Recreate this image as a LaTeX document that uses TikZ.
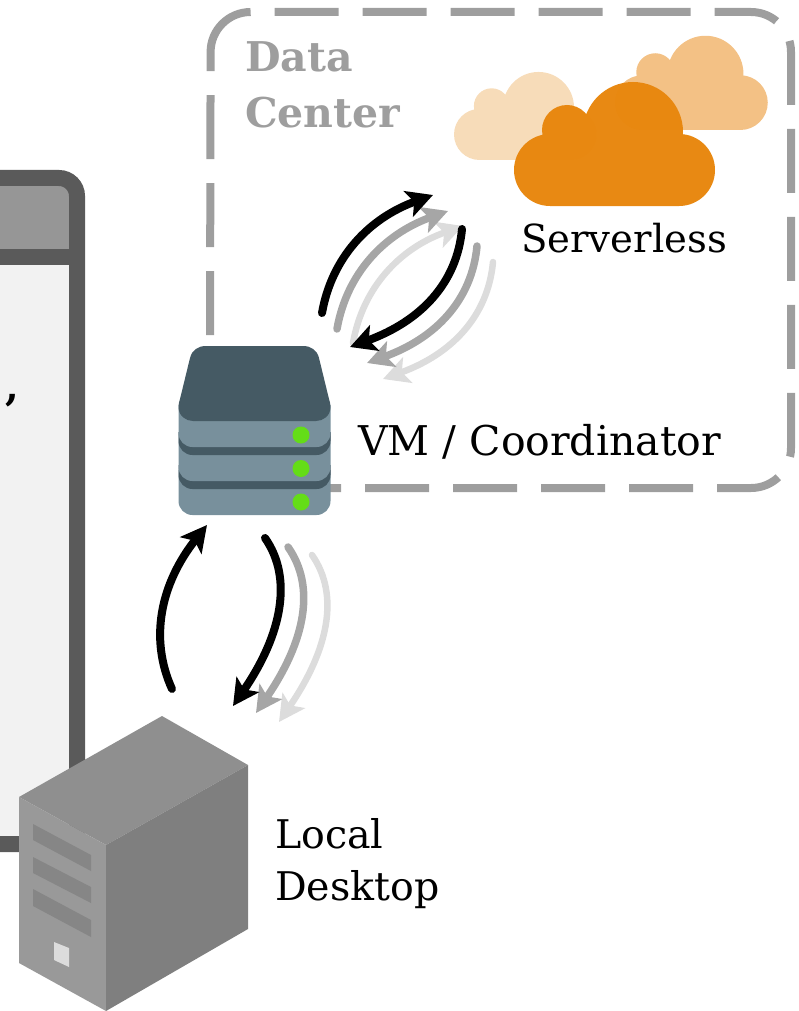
\documentclass[tikz,border=0pt]{standalone}
\usepackage{fontspec}
\setmainfont{DejaVu Serif}
\usetikzlibrary{arrows.meta}
\definecolor{dashgrey}{HTML}{9E9E9E}
\definecolor{winborder}{HTML}{5A5A5A}
\definecolor{winhead}{HTML}{969696}
\definecolor{winbody}{HTML}{F2F2F2}
\definecolor{srvdark}{HTML}{455A64}
\definecolor{srvlight}{HTML}{78909C}
\definecolor{srvgreen}{HTML}{64DD17}
\definecolor{cloudmain}{HTML}{E8870E}
\definecolor{cloudmid}{HTML}{F3C185}
\definecolor{cloudpale}{HTML}{F7DCB9}
\definecolor{pctop}{HTML}{8F8F8F}
\definecolor{pcfront}{HTML}{999999}
\definecolor{pcside}{HTML}{7F7F7F}
\definecolor{pcslot}{HTML}{868686}
\definecolor{pcbtn}{HTML}{DCDCDC}
\definecolor{flowmid}{HTML}{A6A6A6}
\definecolor{flowpale}{HTML}{DCDCDC}
\newcommand{\cloudshape}[1]{%
  \fill[#1] (119,-74) circle[radius=50] (53,-76) circle[radius=25]
    (36,-36) circle[radius=36] (165,-36) circle[radius=36];
  \fill[#1] (36,-72) rectangle (165,0);
}
\tikzset{
  flow/.style={line width=8pt,line cap=round,-{Stealth[length=26pt,width=27pt,inset=6pt]}},
  flowblack/.style={flow,draw=black},
  flowgrey/.style={flow,line width=7.5pt,draw=flowmid},
  flowlight/.style={flow,line width=6.5pt,draw=flowpale},
  label/.style={inner sep=0pt,anchor=base west,font=\fontsize{39.5}{40}\selectfont},
  dclabel/.style={label,font=\fontsize{41}{41}\selectfont\bfseries,text=dashgrey},
}
\begin{document}
\begin{tikzpicture}[x=1pt,y=-1pt]
\useasboundingbox (0,0) rectangle (798,1011);
% window
\fill[winbody] (-20,257) rectangle (77,844);
\fill[winhead] (-20,178) -- (59,178) arc[start angle=-90,end angle=0,radius=18] -- (77,257) -- (-20,257) -- cycle;
\draw[winborder,line width=16pt] (-20,178) -- (59,178) arc[start angle=-90,end angle=0,radius=18] -- (77,844) -- (-20,844);
\draw[winborder,line width=16pt] (-20,257) -- (77,257);
\node[label,anchor=base east,font=\fontsize{39.5}{40}\selectfont\bfseries] (clipped) at (19,400) {,};
% data centre
\draw[dashgrey,line width=8pt,dash pattern=on 64pt off 24pt,dash phase=64pt]
  (250.6,12) -- (751,12) arc[start angle=270,end angle=360,radius=40] -- (791,448)
  arc[start angle=0,end angle=90,radius=40] -- (300,488);
\draw[dashgrey,line width=8pt,dash pattern=on 82pt off 24pt on 64pt off 24pt on 64pt off 24pt on 64pt off 24pt]
  (250.6,12) arc[start angle=270,end angle=180,radius=40] -- (210,345);
\node[dclabel] (dc1) at (245,72) {Data};
\node[dclabel] (dc2) at (245,128) {Center};
% clouds
\begin{scope}[shift={(454,160)},scale=.71]
  \cloudshape{cloudpale}
\end{scope}
\begin{scope}[shift={(615,130)},scale=.76]
  \cloudshape{cloudmid}
\end{scope}
\begin{scope}[shift={(514,206)},transparency group,opacity=.98]
  \cloudshape{cloudmain}
\end{scope}
\node[label,font=\fontsize{38.6}{39}\selectfont] (serverless) at (521,252) {Serverless};
% server
\fill[srvlight] (178.5,470) -- (330.5,470) -- (330.5,501) arc[start angle=0,end angle=90,radius=14] -- (192.5,515) arc[start angle=90,end angle=180,radius=14] -- cycle;
\fill[srvdark] (178.5,465) -- (330.5,465) -- (330.5,475) arc[start angle=0,end angle=90,radius=14] -- (192.5,489) arc[start angle=90,end angle=180,radius=14] -- cycle;
\fill[srvlight] (178.5,432) -- (330.5,432) -- (330.5,467) arc[start angle=0,end angle=90,radius=14] -- (192.5,481) arc[start angle=90,end angle=180,radius=14] -- cycle;
\fill[srvdark] (178.5,432) -- (330.5,432) -- (330.5,441) arc[start angle=0,end angle=90,radius=14] -- (192.5,455) arc[start angle=90,end angle=180,radius=14] -- cycle;
\fill[srvlight] (178.5,405) -- (330.5,405) -- (330.5,433) arc[start angle=0,end angle=90,radius=14] -- (192.5,447) arc[start angle=90,end angle=180,radius=14] -- cycle;
\fill[srvdark] (178.5,407) .. controls (178.5,404) and (179,402) .. (180,399) -- (190,358)
  .. controls (192,350) and (198,346) .. (206,346) -- (303,346)
  .. controls (311,346) and (317,350) .. (319,358) -- (329,399)
  .. controls (330,402) and (330.5,404) .. (330.5,407)
  .. controls (330.5,416) and (323,421) .. (316,421) -- (193,421)
  .. controls (186,421) and (178.5,416) .. (178.5,407) -- cycle;
\fill[srvgreen] (301,435) circle[radius=8.5] (301,468.5) circle[radius=8.5] (301,502) circle[radius=8.5];
\node[label,font=\fontsize{41}{41}\selectfont] (vm) at (358,455) {VM / Coordinator};
% desktop
\fill[pctop] (162,716) -- (248,765) -- (106,845) -- (19,797) -- cycle;
\fill[pcfront] (19,797) -- (106,845) -- (106,1011) -- (19,963) -- cycle;
\fill[pcside] (106,845) -- (248,765) -- (248,929) -- (106,1011) -- cycle;
\fill[pcslot] (33,824) -- (91,855) -- (91,871) -- (33,840) -- cycle;
\fill[pcslot] (33,857) -- (91,887) -- (91,903) -- (33,873) -- cycle;
\fill[pcslot] (33,889) -- (91,920) -- (91,937) -- (33,906) -- cycle;
\fill[pcbtn] (54,942) -- (69,948) -- (69,967) -- (54,960) -- cycle;
\node[label] (local) at (275,848) {Local};
\node[label] (desktop) at (275,900) {Desktop};
% flow end points
\coordinate (ua1) at (322,313); \coordinate (ub1) at (433,195);
\coordinate (ua2) at (337,329); \coordinate (ub2) at (448,211);
\coordinate (ua3) at (353,343); \coordinate (ub3) at (463,226);
\coordinate (da1) at (462,229); \coordinate (db1) at (350,347);
\coordinate (da2) at (477,246); \coordinate (db2) at (367,363);
\coordinate (da3) at (493,262); \coordinate (db3) at (383,379);
\coordinate (pa) at (172,689);  \coordinate (pb) at (207,525);
\coordinate (qa1) at (265,538); \coordinate (qb1) at (233,706);
\coordinate (qa2) at (288,547); \coordinate (qb2) at (256,713);
\coordinate (qa3) at (312,555); \coordinate (qb3) at (279,722);
\draw[flowlight] (ua3) .. controls (362.7,287.7) and (399.7,248.3) .. (ub3);
\draw[flowgrey] (ua2) .. controls (346.7,273.7) and (383.7,234.3) .. (ub2);
\draw[flowblack] (ua1) .. controls (331.7,257.7) and (368.7,218.3) .. (ub1);
\draw[flowlight] (da3) .. controls (488,316) and (452,354) .. (db3);
\draw[flowgrey] (da2) .. controls (472,300) and (436,338) .. (db2);
\draw[flowblack] (da1) .. controls (457,283) and (421,321) .. (db1);
\draw[flowblack] (pa) .. controls (149,638.3) and (160.7,583.7) .. (pb);
\draw[flowlight] (qa3) .. controls (340,595) and (328.3,650) .. (qb3);
\draw[flowgrey] (qa2) .. controls (316,587) and (305.3,641) .. (qb2);
\draw[flowblack] (qa1) .. controls (293,578) and (282.3,634) .. (qb1);
\end{tikzpicture}
\end{document}
